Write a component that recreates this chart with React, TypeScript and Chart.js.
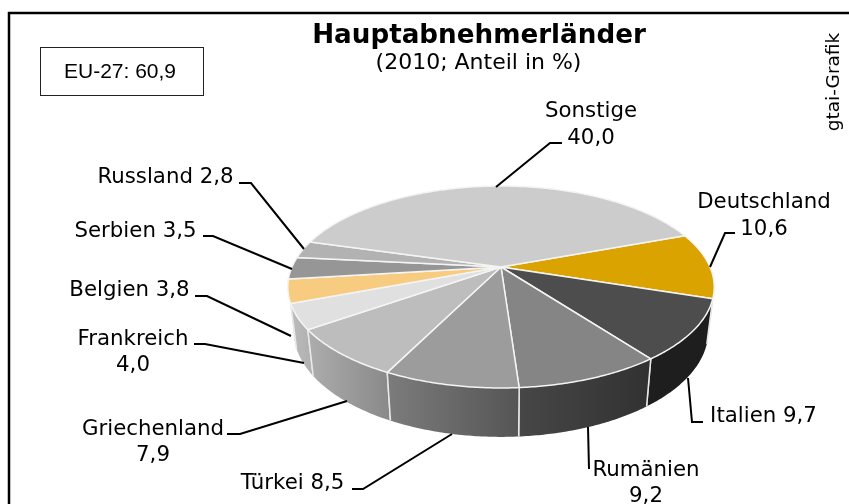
import React, { useEffect, useRef } from "react";
import { Chart, registerables } from "chart.js";

Chart.register(...registerables);

// ---- data ----
const categories = ["Deutschland", "Italien", "Rumänien", "Türkei", "Griechenland", "Frankreich", "Belgien", "Serbien", "Russland", "Sonstige"];
const shares = [10.6, 9.7, 9.2, 8.5, 7.9, 4.0, 3.8, 3.5, 2.8, 40.0];
const topColors = ["#dba300", "#4d4d4d", "#858585", "#9c9c9c", "#bdbdbd", "#e0e0e0", "#f8cc80", "#969696", "#b2b2b2", "#cccccc"];
const wallLeft = ["#9c7400", "#1e1e1e", "#474747", "#7c7c7c", "#adadad", "#bcbcbc", "#f8cc80", "#8a8a8a", "#a0a0a0", "#aaaaaa"];
const wallRight = ["#9c7400", "#1e1e1e", "#313131", "#555555", "#8a8a8a", "#b2b2b2", "#f8cc80", "#8a8a8a", "#a0a0a0", "#aaaaaa"];
const titleText = "Hauptabnehmerländer";
const subtitleText = "(2010; Anteil in %)";
const boxText = "EU-27: 60,9";
const sourceText = "gtai-Grafik";

// ---- label layout (same order as categories) ----
type Lay = { x: number; y: number; twoLines: boolean; y2?: number; leader: number[][] };
const labelLayout: Lay[] = [
  { x: 764, y: 202, twoLines: true, y2: 229, leader: [[735, 233], [725, 233], [710, 267]] },
  { x: 763.5, y: 416, twoLines: false, leader: [[703, 422], [692, 422], [688, 378]] },
  { x: 646, y: 470, twoLines: true, y2: 496, leader: [[589, 469], [588, 427]] },
  { x: 292.5, y: 483, twoLines: false, leader: [[352, 489], [363, 489], [452, 434]] },
  { x: 153, y: 429, twoLines: true, y2: 455, leader: [[227, 434], [240, 434], [347, 401]] },
  { x: 133, y: 339, twoLines: true, y2: 365, leader: [[194, 344], [205, 344], [304, 363]] },
  { x: 129.5, y: 290, twoLines: false, leader: [[195, 296], [207, 296], [291, 336]] },
  { x: 135.5, y: 231, twoLines: false, leader: [[203, 236], [213, 236], [292, 269]] },
  { x: 165.5, y: 177, twoLines: false, leader: [[239, 183], [251, 183], [304, 249]] },
  { x: 591, y: 111, twoLines: true, y2: 138, leader: [[562, 143], [550, 143], [496, 187]] },
];

// ---- 3D projection of the unit disc ----
const CX = 501, CY = 267, A = 209, B = 97, K = 0.198;
const WALL_SX = 0.972, WALL_SY = 1.045, WALL_D = 43.5;
const FONT = '"DejaVu Sans"';

const top = (t: number) => {
  const u = Math.cos(t), v = Math.sin(t), d = 1 - K * v;
  return { X: (A * u) / d, Y: (B * v) / d };
};
const topPt = (t: number) => { const p = top(t); return [CX + p.X, CY + p.Y]; };
const botPt = (t: number) => { const p = top(t); return [CX + p.X * WALL_SX, CY + p.Y * WALL_SY + WALL_D]; };
const samples = (a: number, b: number) => {
  const n = Math.max(2, Math.ceil((b - a) / 0.01));
  return Array.from({ length: n + 1 }, (_, i) => a + ((b - a) * i) / n);
};

const pie3d = {
  id: "pie3d",
  beforeDatasetsDraw(chart: any) {
    const ctx: CanvasRenderingContext2D = chart.ctx;
    const arcs = chart.getDatasetMeta(0).data as any[];
    ctx.save();
    ctx.lineJoin = "round";
    const order = arcs.map((_, i) => i).sort((i, j) => {
      const m = (q: number) => Math.sin((arcs[q].startAngle + arcs[q].endAngle) / 2);
      return m(i) - m(j);
    });
    // walls
    for (const i of order) {
      const { startAngle: a, endAngle: b } = arcs[i];
      const ts = samples(a, b);
      const xs = ts.map((t) => topPt(t)[0]);
      const g = ctx.createLinearGradient(Math.min(...xs), 0, Math.max(...xs), 0);
      g.addColorStop(0, wallLeft[i]);
      g.addColorStop(1, wallRight[i]);
      ctx.beginPath();
      ts.forEach((t, k) => { const p = topPt(t); k ? ctx.lineTo(p[0], p[1]) : ctx.moveTo(p[0], p[1]); });
      [...ts].reverse().forEach((t) => { const p = botPt(t); ctx.lineTo(p[0], p[1]); });
      ctx.closePath();
      ctx.fillStyle = g;
      ctx.fill();
      ctx.strokeStyle = "#e8e8e8";
      ctx.lineWidth = 1.5;
      for (const t of [a, b]) {
        const p = topPt(t), q = botPt(t);
        ctx.beginPath(); ctx.moveTo(p[0], p[1]); ctx.lineTo(q[0], q[1]); ctx.stroke();
      }
    }
    // tops
    arcs.forEach((arc, i) => {
      ctx.beginPath();
      ctx.moveTo(CX, CY);
      samples(arc.startAngle, arc.endAngle).forEach((t) => { const p = topPt(t); ctx.lineTo(p[0], p[1]); });
      ctx.closePath();
      ctx.fillStyle = arc.options.backgroundColor;
      ctx.fill();
      ctx.strokeStyle = arc.options.borderColor;
      ctx.lineWidth = arc.options.borderWidth;
      ctx.stroke();
    });
    ctx.restore();
    return false;
  },
};

const annotations = {
  id: "annotations",
  afterDraw(chart: any) {
    const ctx: CanvasRenderingContext2D = chart.ctx;
    ctx.save();
    // outer frame
    ctx.strokeStyle = "#000";
    ctx.lineWidth = 2.5;
    ctx.beginPath();
    ctx.moveTo(9, 504); ctx.lineTo(9, 13); ctx.lineTo(849, 13);
    ctx.stroke();
    // EU box
    ctx.lineWidth = 1;
    ctx.strokeStyle = "#222";
    ctx.strokeRect(40.5, 47.5, 163, 48);
    ctx.fillStyle = "#000";
    ctx.textAlign = "center";
    ctx.textBaseline = "middle";
    ctx.font = '21px "Liberation Sans"';
    ctx.fillText(boxText, 120, 72);
    // titles
    ctx.font = `bold 26.2px ${FONT}`;
    ctx.fillText(titleText, 479, 36);
    ctx.font = `22px ${FONT}`;
    ctx.fillText(subtitleText, 478.5, 63);
    // source, rotated
    ctx.save();
    ctx.translate(834, 82);
    ctx.rotate(-Math.PI / 2);
    ctx.font = `18.5px ${FONT}`;
    ctx.fillText(sourceText, 0, 0);
    ctx.restore();
    // labels + leaders
    ctx.font = `21.3px ${FONT}`;
    ctx.lineWidth = 2;
    ctx.strokeStyle = "#000";
    categories.forEach((c, i) => {
      const l = labelLayout[i];
      const val = shares[i].toFixed(1).replace(".", ",");
      if (l.twoLines) {
        ctx.fillText(c, l.x, l.y);
        ctx.fillText(val, l.x, l.y2!);
      } else {
        ctx.fillText(`${c} ${val}`, l.x, l.y);
      }
      ctx.beginPath();
      l.leader.forEach((p, k) => (k ? ctx.lineTo(p[0], p[1]) : ctx.moveTo(p[0], p[1])));
      ctx.stroke();
    });
    ctx.restore();
  },
};

export default function App() {
  const ref = useRef<HTMLCanvasElement>(null);
  useEffect(() => {
    const chart = new Chart(ref.current!, {
      type: "pie",
      data: {
        labels: categories,
        datasets: [{ data: shares, backgroundColor: topColors, borderColor: "#f4f4f4", borderWidth: 1.5 }],
      },
      options: {
        animation: false,
        responsive: false,
        rotation: 69.8,
        plugins: { legend: { display: false }, tooltip: { enabled: false } },
      },
      plugins: [pie3d, annotations],
    } as any);
    return () => chart.destroy();
  }, []);
  return (
    <canvas
      ref={ref}
      width={849}
      height={504}
      style={{ position: "absolute", left: 0, top: 0, width: 849, height: 504 }}
    />
  );
}
